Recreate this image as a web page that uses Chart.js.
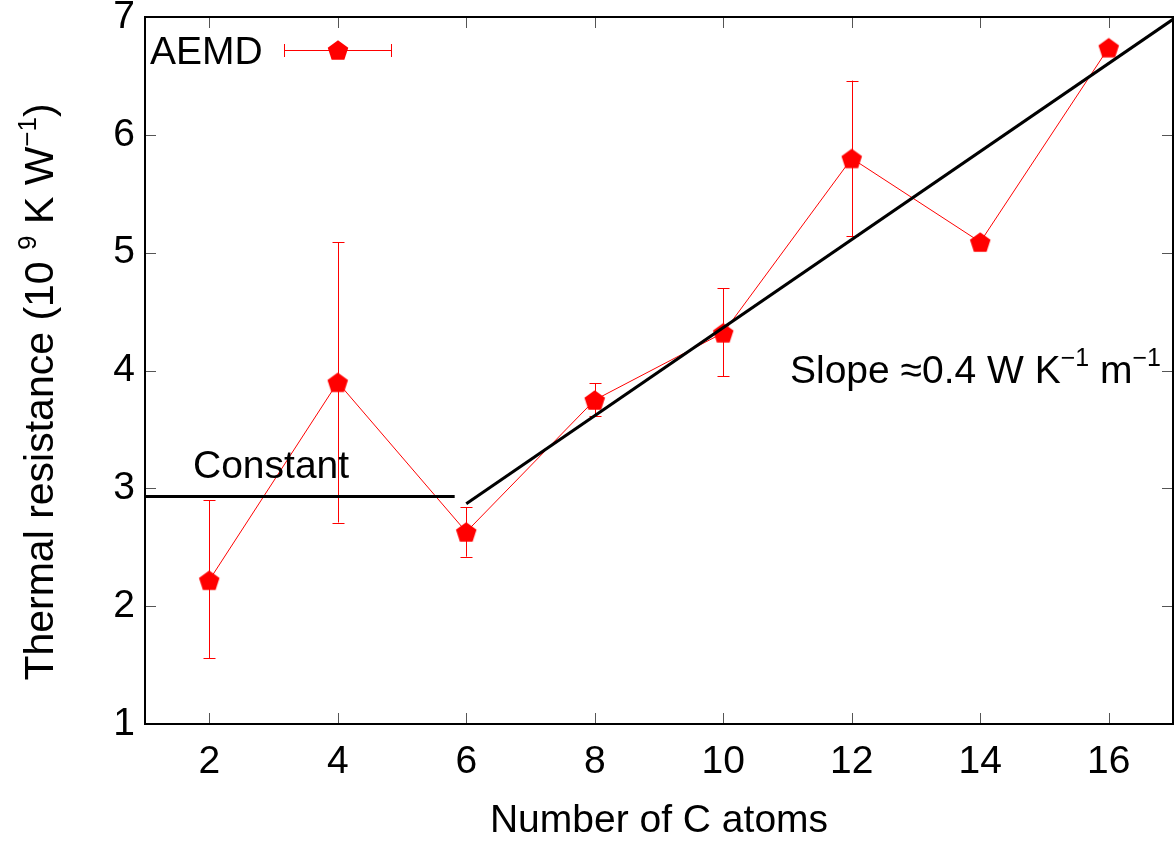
<!DOCTYPE html>
<html>
<head>
<meta charset="utf-8">
<script src="https://cdn.jsdelivr.net/npm/chart.js@4/dist/chart.umd.min.js"></script>
<style>
  html, body { margin: 0; padding: 0; background: #fff; }
  #wrap { width: 1176px; height: 845px; position: relative; }
</style>
</head>
<body>
<div id="wrap"><canvas id="c" width="1176" height="845"></canvas></div>
<script>
// ---- Data ----
const carbonAtoms = [2, 4, 6, 8, 10, 12, 14, 16];
const resistance  = [2.22, 3.90, 2.63, 3.75, 4.32, 5.80, 5.09, 6.74];
const errLow      = [1.56, 2.71, 2.42, 3.61, 3.95, 5.14, null, null];
const errHigh     = [2.90, 5.09, 2.84, 3.89, 4.70, 6.46, null, null];
const constFitX   = [1, 5.82];
const constFitY   = [2.93, 2.93];
const slopeFitX   = [6.0, 17];
const slopeFitY   = [2.87, 6.98];
const xTicks      = [2, 4, 6, 8, 10, 12, 14, 16];
const yTicks      = [1, 2, 3, 4, 5, 6, 7];
const seriesLabel = 'AEMD';
const xTitle      = 'Number of C atoms';
const constLabel  = 'Constant';

const FONT = '"Liberation Sans", Arial, Helvetica, sans-serif';
const FS = 39;
const SUP = 25;
const YFS = 41;
const YSUP = 26;

// pentagon marker
function makePentagon(r, color) {
  const s = Math.ceil(r * 2 + 2);
  const cv = document.createElement('canvas');
  cv.width = s; cv.height = s;
  const g = cv.getContext('2d');
  g.fillStyle = color;
  g.beginPath();
  for (let i = 0; i < 5; i++) {
    const a = -Math.PI / 2 + i * 2 * Math.PI / 5;
    const px = s / 2 + r * Math.cos(a), py = s / 2 + 1 + r * Math.sin(a);
    if (i === 0) g.moveTo(px, py); else g.lineTo(px, py);
  }
  g.closePath(); g.fill();
  return cv;
}
const pent = makePentagon(10.8, '#ff0000');

function drawRich(ctx, segs, x, y, fs, sfs, rise) {
  let cx = x;
  for (const [t, sup] of segs) {
    ctx.font = (sup ? sfs : fs) + 'px ' + FONT;
    ctx.fillText(t, cx, sup ? y - rise : y);
    cx += ctx.measureText(t).width;
  }
  return cx - x;
}
function richWidth(ctx, segs, fs, sfs) {
  let w = 0;
  for (const [t, sup] of segs) {
    ctx.font = (sup ? sfs : fs) + 'px ' + FONT;
    w += ctx.measureText(t).width;
  }
  return w;
}

const yTitleSegs = [['Thermal resistance (10 ', false], ['9', true], [' K W', false], ['\u22121', true], [')', false]];
const slopeSegs  = [['Slope \u22480.4 W K', false], ['\u22121', true], [' m', false], ['\u22121', true]];

const decor = {
  id: 'decor',
  beforeDatasetsDraw(chart) {
    const ctx = chart.ctx, xs = chart.scales.x, ys = chart.scales.y;
    ctx.save();
    ctx.strokeStyle = '#ff0000';
    ctx.lineWidth = 1;
    for (let i = 0; i < carbonAtoms.length; i++) {
      if (errLow[i] == null) continue;
      const px = Math.round(xs.getPixelForValue(carbonAtoms[i])) + 0.5;
      const y1 = ys.getPixelForValue(errLow[i]);
      const y2 = ys.getPixelForValue(errHigh[i]);
      ctx.beginPath();
      ctx.moveTo(px, y1); ctx.lineTo(px, y2);
      ctx.moveTo(px - 6, Math.round(y1) + 0.5); ctx.lineTo(px + 6, Math.round(y1) + 0.5);
      ctx.moveTo(px - 6, Math.round(y2) + 0.5); ctx.lineTo(px + 6, Math.round(y2) + 0.5);
      ctx.stroke();
    }
    ctx.restore();
  },
  afterDraw(chart) {
    const ctx = chart.ctx, a = chart.chartArea, xs = chart.scales.x, ys = chart.scales.y;
    ctx.save();
    // inward ticks on all sides
    ctx.strokeStyle = '#555';
    ctx.lineWidth = 1;
    const TL = 11;
    ctx.beginPath();
    for (const v of xTicks) {
      const px = Math.round(xs.getPixelForValue(v)) + 0.5;
      ctx.moveTo(px, a.bottom); ctx.lineTo(px, a.bottom - TL);
      ctx.moveTo(px, a.top); ctx.lineTo(px, a.top + TL);
    }
    for (const v of yTicks) {
      const py = Math.round(ys.getPixelForValue(v)) + 0.5;
      ctx.moveTo(a.left, py); ctx.lineTo(a.left + TL, py);
      ctx.moveTo(a.right, py); ctx.lineTo(a.right - TL, py);
    }
    ctx.stroke();
    // frame
    ctx.strokeStyle = '#000';
    ctx.lineWidth = 2;
    ctx.strokeRect(a.left, a.top, a.right - a.left, a.bottom - a.top);

    ctx.fillStyle = '#000';
    ctx.textBaseline = 'alphabetic';
    ctx.textAlign = 'left';
    // y title (rotated)
    ctx.save();
    const w = richWidth(ctx, yTitleSegs, YFS, YSUP);
    ctx.translate(53, 392);
    ctx.rotate(-Math.PI / 2);
    drawRich(ctx, yTitleSegs, -w / 2, 0, YFS, YSUP, 17);
    ctx.restore();

    // annotations
    drawRich(ctx, slopeSegs, 790, 383, FS, SUP, 17);
    ctx.font = FS + 'px ' + FONT;
    ctx.fillText(constLabel, 193, 478);

    // legend
    ctx.fillText(seriesLabel, 150, 64);
    const ly = 50.5;
    ctx.strokeStyle = '#ff0000';
    ctx.lineWidth = 1;
    ctx.beginPath();
    ctx.moveTo(284, ly); ctx.lineTo(392, ly);
    ctx.moveTo(284.5, ly - 6.5); ctx.lineTo(284.5, ly + 6.5);
    ctx.moveTo(391.5, ly - 6.5); ctx.lineTo(391.5, ly + 6.5);
    ctx.stroke();
    ctx.drawImage(pent, 338 - pent.width / 2, 50 - pent.height / 2);
    ctx.restore();
  }
};

new Chart(document.getElementById('c'), {
  type: 'scatter',
  data: {
    datasets: [
      {
        label: 'Constant fit',
        data: constFitX.map((x, i) => ({ x, y: constFitY[i] })),
        showLine: true, borderColor: '#000', borderWidth: 3, pointRadius: 0, order: 0
      },
      {
        label: 'Slope fit',
        data: slopeFitX.map((x, i) => ({ x, y: slopeFitY[i] })),
        showLine: true, borderColor: '#000', borderWidth: 3, pointRadius: 0, order: 0
      },
      {
        label: seriesLabel,
        data: carbonAtoms.map((x, i) => ({ x, y: resistance[i] })),
        showLine: true, borderColor: '#ff0000', borderWidth: 1,
        pointStyle: pent, pointRadius: 11, backgroundColor: '#ff0000', order: 1
      }
    ]
  },
  options: {
    responsive: false,
    animation: false,
    devicePixelRatio: 1,
    layout: { autoPadding: false, padding: { top: 17, right: 3, left: 0, bottom: 0 } },
    plugins: { legend: { display: false }, tooltip: { enabled: false } },
    scales: {
      x: {
        type: 'linear', min: 1, max: 17,
        afterBuildTicks(s) { s.ticks = xTicks.map(v => ({ value: v })); },
        afterFit(s) { s.height = 121; s.paddingLeft = 0; s.paddingRight = 0; },
        grid: { display: false, drawTicks: false },
        border: { display: false },
        ticks: { color: '#000', font: { family: FONT, size: FS }, padding: 15, maxRotation: 0, autoSkip: false },
        title: { display: true, text: xTitle, color: '#000', font: { family: FONT, size: FS }, padding: { top: 0, bottom: 0 } }
      },
      y: {
        type: 'linear', min: 1, max: 7,
        afterBuildTicks(s) { s.ticks = yTicks.map(v => ({ value: v })); },
        afterFit(s) { s.width = 145; s.paddingTop = 0; s.paddingBottom = 0; },
        grid: { display: false, drawTicks: false },
        border: { display: false },
        ticks: { color: '#000', font: { family: FONT, size: FS }, padding: 10 }
      }
    }
  },
  plugins: [decor]
});
</script>
</body>
</html>
